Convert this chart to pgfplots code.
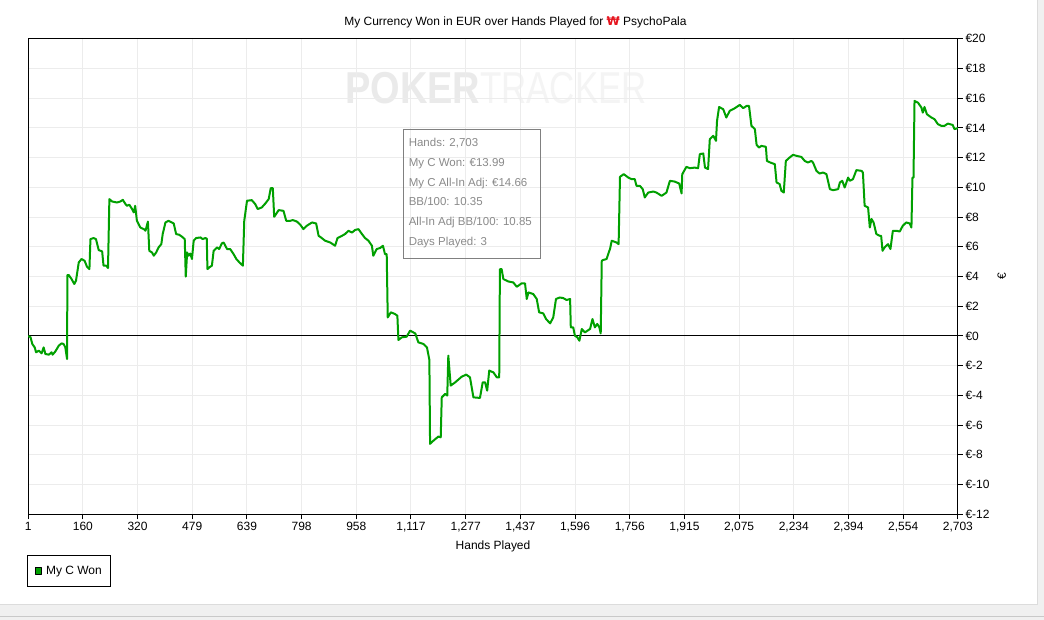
\documentclass[border=0pt]{standalone}
\usepackage{fontspec}
\setmainfont{Liberation Sans}
\newfontfamily\dejavu{DejaVu Sans}
\usepackage{pgfplots}
\pgfplotsset{compat=1.18}
\definecolor{pgreen}{RGB}{0,160,0}
\definecolor{gridc}{RGB}{236,236,236}
\definecolor{pagegray}{RGB}{240,240,240}
\definecolor{framegray}{RGB}{220,220,220}
\definecolor{tipgray}{RGB}{138,138,138}
\definecolor{wmA}{RGB}{234,234,234}
\definecolor{wmB}{RGB}{244,244,244}
\definecolor{iconred}{RGB}{230,20,30}

\pgfplotstableread{
x y
1 0
8 -0.09
13 -0.54
20 -0.77
24 -1.10
32 -0.99
40 -1.17
46 -0.77
51 -1.21
61 -1.26
69 -1.10
72 -1.26
80 -1.04
90 -0.65
98 -0.50
104 -0.54
109 -0.77
114 -1.55
115 4.10
119 4.10
127 3.83
135 3.50
140 3.72
148 4.95
156 5.18
165 5.06
172 4.66
179 4.50
182 6.52
191 6.59
198 6.52
206 5.78
216 5.69
220 4.73
228 4.73
233 4.57
237 9.21
245 9.05
259 8.98
269 9.05
276 9.16
284 8.87
288 8.76
295 8.83
303 8.54
308 8.31
312 8.76
317 7.75
327 7.30
337 7.19
342 7.08
349 7.70
353 5.73
361 5.62
366 5.40
373 5.62
380 5.96
388 6.18
392 6.86
400 7.64
409 7.75
424 7.57
431 6.86
440 6.81
448 6.68
456 6.52
459 3.99
463 5.62
467 5.40
472 5.55
477 5.18
482 6.41
489 6.59
502 6.63
508 6.52
516 6.59
520 6.55
522 4.50
530 4.66
535 4.73
540 5.73
550 5.96
556 5.85
564 6.23
569 6.29
579 5.85
588 5.85
598 5.51
606 5.18
615 4.95
625 4.73
629 7.75
637 9.10
651 9.14
661 8.87
668 8.54
680 8.65
690 8.91
700 9.21
706 9.95
712 9.95
716 8.02
729 8.47
743 8.42
751 7.75
763 7.75
770 7.80
782 7.70
792 7.48
801 7.19
811 7.42
826 7.64
838 7.57
845 6.74
852 6.63
864 6.41
879 6.29
893 6.07
900 6.59
913 6.74
922 6.86
932 7.08
942 6.96
951 7.13
961 7.19
971 6.86
980 6.59
990 6.41
1000 6.07
1004 5.40
1014 5.85
1024 5.92
1032 6.07
1038 5.51
1043 5.51
1046 1.25
1055 1.59
1067 1.48
1074 1.36
1077 -0.27
1087 -0.09
1101 -0.05
1111 0.36
1126 0.17
1135 -0.43
1150 -0.54
1160 -0.77
1167 -1.61
1169 -7.26
1179 -7.04
1193 -6.77
1200 -6.82
1203 -4.13
1213 -3.90
1219 -4.01
1222 -1.32
1229 -3.34
1242 -3.12
1261 -2.74
1274 -2.60
1285 -2.78
1295 -4.13
1314 -4.17
1322 -3.12
1329 -3.12
1335 -3.68
1341 -2.33
1353 -2.45
1363 -2.78
1370 -2.78
1372 4.50
1377 4.50
1382 3.83
1396 3.67
1411 3.60
1421 3.31
1435 3.54
1445 3.54
1450 2.49
1455 2.93
1469 2.82
1479 2.49
1486 1.59
1498 1.52
1506 1.14
1518 0.85
1527 1.25
1535 2.49
1546 2.59
1556 2.55
1566 2.42
1576 2.49
1578 0.58
1585 0.58
1590 0.02
1597 -0.09
1603 -0.32
1610 0.47
1619 0.24
1634 0.47
1641 1.14
1648 0.58
1655 0.81
1661 0.58
1665 0.17
1668 5.06
1672 5.11
1682 5.18
1690 5.73
1692 5.85
1697 6.41
1711 6.29
1717 6.18
1721 10.71
1732 10.89
1745 10.66
1755 10.55
1764 10.55
1769 10.10
1779 10.10
1787 9.88
1793 9.32
1803 9.65
1818 9.72
1827 9.65
1842 9.43
1856 9.65
1866 10.44
1880 10.39
1893 10.26
1900 9.59
1902 10.89
1914 11.38
1924 11.29
1938 11.33
1948 11.29
1953 12.24
1963 12.28
1968 11.33
1977 11.23
1982 13.24
1992 13.47
2000 13.13
2003 14.47
2009 15.41
2021 15.26
2030 14.70
2040 15.15
2055 15.33
2069 15.55
2079 15.33
2089 15.48
2096 15.48
2103 14.14
2113 13.92
2118 12.86
2125 12.68
2132 12.79
2145 12.73
2148 11.78
2158 11.67
2171 11.56
2176 10.33
2185 10.22
2190 9.77
2197 9.65
2203 11.78
2214 12.01
2224 12.19
2234 12.12
2248 12.05
2258 11.78
2267 11.67
2277 11.78
2282 11.67
2292 11.11
2301 10.93
2311 11.00
2321 10.89
2331 9.88
2340 9.81
2355 9.88
2360 10.33
2367 10.44
2374 9.99
2384 10.66
2389 10.44
2398 10.55
2408 11.16
2423 11.11
2427 11.00
2432 8.76
2442 8.65
2447 7.30
2452 7.87
2458 7.64
2466 6.86
2476 6.74
2480 6.74
2484 5.73
2490 5.96
2500 6.18
2507 5.85
2514 7.08
2524 7.08
2534 7.03
2543 7.42
2553 7.64
2563 7.57
2568 7.30
2571 10.66
2574 10.66
2577 15.82
2587 15.70
2597 15.37
2601 15.03
2606 15.41
2613 14.92
2626 14.70
2635 14.59
2645 14.25
2655 14.14
2664 14.14
2674 14.29
2688 14.20
2693 13.92
2703 13.99
}\wondata

\begin{document}
\begin{tikzpicture}[x=1pt,y=1pt]
% window background
\fill[pagegray] (0,0) rectangle (1044,620);
\fill[white] (0,15) rectangle (1038,620);
\draw[framegray, line width=1pt] (0,15) -- (1038,15) -- (1038,620);
\draw[framegray!80!gray, line width=1pt] (0,3.5) -- (1044,3.5);
% watermark
\node[anchor=base west, inner sep=0pt, text=wmA, xscale=0.85]
  at (345,516.7) {\fontsize{44.7}{50}\selectfont\bfseries POKER};
\node[anchor=base west, inner sep=0pt, text=wmB, xscale=0.78]
  at (480,516.7) {\fontsize{44.7}{50}\selectfont TRACKER};
% title
\node[anchor=base west, inner sep=0pt] at (344,595.3)
  {\fontsize{12}{14}\selectfont My Currency Won in EUR over Hands Played for {\dejavu\bfseries\color{iconred}\fontsize{12}{14}\selectfont ₩} PsychoPala};
\begin{axis}[
  at={(27.7pt,105.7pt)}, anchor=south west,
  scale only axis, width=930.6pt, height=476pt,
  xmin=1, xmax=2703, ymin=-12, ymax=20,
  xtick={1,159.94,318.88,477.82,636.76,795.71,954.65,1113.59,1272.53,1431.47,1590.41,1749.35,1908.29,2067.24,2226.18,2385.12,2544.06,2703},
  xticklabels={1,160,320,479,639,798,958,{1,117},{1,277},{1,437},{1,596},{1,756},{1,915},{2,075},{2,234},{2,394},{2,554},{2,703}},
  ytick={-12,-10,...,20},
  yticklabels={€-12,€-10,€-8,€-6,€-4,€-2,€0,€2,€4,€6,€8,€10,€12,€14,€16,€18,€20},
  xtick pos=bottom, ytick pos=right,
  yticklabel pos=right,
  tick align=outside, major tick length=5pt,
  tick style={black, line width=1pt},
  axis line style={black, line width=1pt},
  grid=major, major grid style={gridc, line width=1pt},
  ticklabel style={font=\fontsize{12}{14}\selectfont},
  xticklabel style={inner sep=0pt, yshift=-3pt},
  yticklabel style={inner sep=0pt, xshift=2.5pt},
  legend style={at={(-0.0011,-0.0855)}, anchor=north west, draw=black,
    line width=1pt, font=\fontsize{12}{14}\selectfont,
    inner xsep=7pt, inner ysep=8.5pt, cells={anchor=west}},
  legend image code/.code={\draw[black, fill=pgreen, line width=0.8pt] (1pt,-3.2pt) rectangle (7.4pt,3.2pt); \path (9pt,0pt);},
]
\addplot[black, line width=1pt, forget plot] coordinates {(1,0) (2703,0)};
\addplot[pgreen, line width=2pt, line join=round] table[x=x, y=y] {\wondata};
\addlegendentry{My C Won}
\end{axis}
% y axis label
\node[rotate=90, inner sep=0pt] at (1002.3,344) {\fontsize{12}{14}\selectfont €};
% x axis label
\node[anchor=base, inner sep=0pt] at (493,70.7) {\fontsize{12}{14}\selectfont Hands Played};
% tooltip
\draw[gray, line width=1pt] (403.3,490.7) rectangle (540.7,361.7);
\begin{scope}[every node/.style={anchor=base west, inner sep=0pt, text=tipgray, font=\fontsize{11.5}{13}\selectfont}]
\node at (408.5,474.3) {Hands: 2,703};
\node at (408.5,454.3) {My C Won: €13.99};
\node at (408.5,434.3) {My C All-In Adj: €14.66};
\node at (408.5,414.3) {BB/100: 10.35};
\node at (408.5,394.3) {All-In Adj BB/100: 10.85};
\node at (408.5,374.3) {Days Played: 3};
\end{scope}
\end{tikzpicture}
\end{document}
